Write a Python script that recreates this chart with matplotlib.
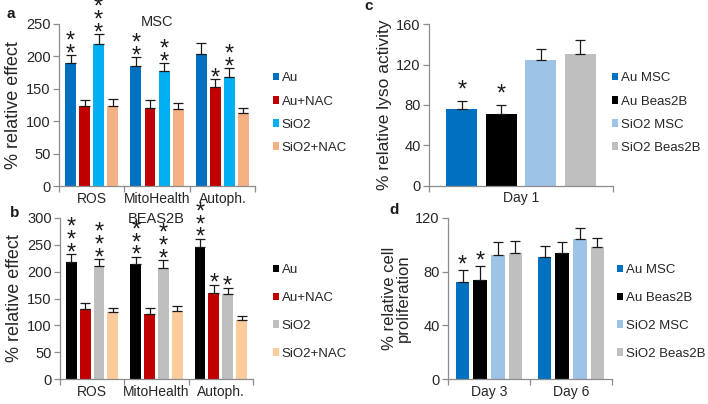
import numpy as np
import matplotlib
matplotlib.use('Agg')
import matplotlib.pyplot as plt

plt.rcParams['font.family'] = ['Liberation Sans', 'DejaVu Sans']

# panel a - MSC
a_groups = ['ROS', 'MitoHealth', 'Autoph.']
a_labels = ['Au', 'Au+NAC', 'SiO2', 'SiO2+NAC']
a_au = [190, 185, 203]
a_au_err = [12, 14, 17]
a_au_nac = [123, 121, 153]
a_au_nac_err = [10, 11, 12]
a_sio2 = [219, 177, 168]
a_sio2_err = [16, 13, 14]
a_sio2_nac = [124, 119, 112]
a_sio2_nac_err = [10, 9, 9]
a_stars = [[2, 2, 0], [0, 0, 1], [3, 2, 2], [0, 0, 0]]

# panel b - BEAS2B
b_groups = ['ROS', 'MitoHealth', 'Autoph.']
b_labels = ['Au', 'Au+NAC', 'SiO2', 'SiO2+NAC']
b_au = [218, 214, 245]
b_au_err = [14, 13, 16]
b_au_nac = [131, 121, 161]
b_au_nac_err = [10, 11, 15]
b_sio2 = [210, 206, 158]
b_sio2_err = [13, 15, 12]
b_sio2_nac = [125, 126, 110]
b_sio2_nac_err = [8, 10, 7]
b_stars = [[3, 3, 3], [0, 0, 1], [3, 3, 1], [0, 0, 0]]

# panel c - lyso activity
c_groups = ['Day 1']
c_labels = ['Au MSC', 'Au Beas2B', 'SiO2 MSC', 'SiO2 Beas2B']
c_vals = [[76], [71], [124], [130]]
c_errs = [[8], [9], [11], [14]]
c_stars = [[1], [1], [0], [0]]

# panel d - cell proliferation
d_groups = ['Day 3', 'Day 6']
d_labels = ['Au MSC', 'Au Beas2B', 'SiO2 MSC', 'SiO2 Beas2B']
d_au_msc = [72, 91]
d_au_msc_err = [9, 8]
d_au_beas = [74, 94]
d_au_beas_err = [10, 8]
d_sio2_msc = [92, 104]
d_sio2_msc_err = [10, 8]
d_sio2_beas = [94, 98]
d_sio2_beas_err = [9, 7]
d_stars = [[1, 0], [1, 0], [0, 0], [0, 0]]

TEXT = '#262626'
SPINE = '#8c8c8c'
STAR_SIZE = 17


def add_stars(ax, x, top, n, gap_px):
    # one stacked text of asterisks; gap is measured to the lowest star centre
    dy = gap_px * 0.72 - 0.57 * STAR_SIZE
    ax.annotate('\n'.join(['*'] * n), xy=(x, top), xytext=(0, dy),
                textcoords='offset points', ha='center', va='baseline',
                fontsize=STAR_SIZE, linespacing=0.45, color='#1a1a1a')


def draw_panel(ax, groups, vals, errs, colors, labels, stars, ymax, ystep,
               star_gap, leg_pos, leg_space):
    x = np.arange(len(groups))
    slot = 0.215
    width = 0.168
    handles = []
    for i in range(4):
        pos = x + (i - 1.5) * slot
        b = ax.bar(pos, vals[i], width, color=colors[i], label=labels[i], zorder=2)
        handles.append(b)
        ax.errorbar(pos, vals[i], yerr=[np.zeros(len(groups)), errs[i]], fmt='none',
                    ecolor='#1a1a1a', elinewidth=0.9, capsize=3.5, capthick=0.9, zorder=3)
        for j in range(len(groups)):
            if stars[i][j]:
                add_stars(ax, pos[j], vals[i][j] + errs[i][j], stars[i][j], star_gap)
    ax.set_xlim(-0.5, len(groups) - 0.5)
    ax.set_ylim(0, ymax)
    ax.set_yticks(np.arange(0, ymax + 1, ystep))
    ax.set_xticks(x)
    ax.set_xticklabels(groups)
    ax.set_xticks(np.arange(-0.5, len(groups)), minor=True)
    ax.tick_params(axis='x', which='major', length=0, pad=4, labelsize=10, labelcolor=TEXT)
    ax.tick_params(axis='x', which='minor', length=4, color=SPINE, width=0.9)
    ax.tick_params(axis='y', length=4, color=SPINE, width=0.9, labelsize=10.5,
                   labelcolor=TEXT, pad=2)
    for s in ['top', 'right']:
        ax.spines[s].set_visible(False)
    for s in ['left', 'bottom']:
        ax.spines[s].set_color(SPINE)
        ax.spines[s].set_linewidth(0.9)
    ax.legend(handles=handles, loc='center left', bbox_to_anchor=leg_pos,
              bbox_transform=ax.figure.transFigure, frameon=False, fontsize=9.5,
              handlelength=0.5, handleheight=0.5, handletextpad=0.2,
              labelspacing=leg_space, borderpad=0, borderaxespad=0, labelcolor=TEXT)


def main():
    fig = plt.figure(figsize=(7.08, 4.04), dpi=100)

    ax_a = fig.add_axes([0.0833, 0.5396, 0.277, 0.401])
    draw_panel(ax_a, a_groups, [a_au, a_au_nac, a_sio2, a_sio2_nac],
               [a_au_err, a_au_nac_err, a_sio2_err, a_sio2_nac_err],
               ['#0070C0', '#C00000', '#00B0F0', '#F4B183'], a_labels, a_stars,
               250, 50, 8, (0.385, 0.720), 0.85)
    ax_a.set_ylabel('% relative effect', fontsize=13, color=TEXT, labelpad=3)
    ax_a.text(0.5, 1.01, 'MSC', transform=ax_a.transAxes, ha='center', va='center',
              fontsize=10.5, color=TEXT)

    ax_b = fig.add_axes([0.0847, 0.0611, 0.2726, 0.400])
    draw_panel(ax_b, b_groups, [b_au, b_au_nac, b_sio2, b_sio2_nac],
               [b_au_err, b_au_nac_err, b_sio2_err, b_sio2_nac_err],
               ['#000000', '#C00000', '#BFBFBF', '#FCCB9C'], b_labels, b_stars,
               300, 50, 8.5, (0.385, 0.228), 1.2)
    ax_b.set_ylabel('% relative effect', fontsize=13, color=TEXT, labelpad=3)
    ax_b.text(0.5, 0.995, 'BEAS2B', transform=ax_b.transAxes, ha='center', va='center',
              fontsize=10.5, color=TEXT)

    ax_c = fig.add_axes([0.606, 0.5403, 0.26, 0.400])
    draw_panel(ax_c, c_groups, c_vals, c_errs,
               ['#0070C0', '#000000', '#9DC3E6', '#BFBFBF'], c_labels, c_stars,
               160, 40, 18, (0.864, 0.720), 0.85)
    ax_c.set_ylabel('% relative lyso activity', fontsize=12.5, color=TEXT, labelpad=3)

    ax_d = fig.add_axes([0.6328, 0.0611, 0.2316, 0.400])
    draw_panel(ax_d, d_groups, [d_au_msc, d_au_beas, d_sio2_msc, d_sio2_beas],
               [d_au_msc_err, d_au_beas_err, d_sio2_msc_err, d_sio2_beas_err],
               ['#0070C0', '#000000', '#9DC3E6', '#BFBFBF'], d_labels, d_stars,
               120, 40, 12, (0.871, 0.228), 1.2)
    ax_d.set_ylabel('% relative cell\nproliferation', fontsize=12, color=TEXT,
                    labelpad=3, linespacing=0.95)

    for letter, px, py in [('a', 11, 14), ('b', 15, 213), ('c', 369, 6), ('d', 394, 210)]:
        fig.text(px / 708, 1 - py / 404, letter, fontsize=11, fontweight='bold',
                 ha='center', va='center', color='#1a1a1a')

    fig.savefig('out.png', dpi=100)


if __name__ == '__main__':
    main()
